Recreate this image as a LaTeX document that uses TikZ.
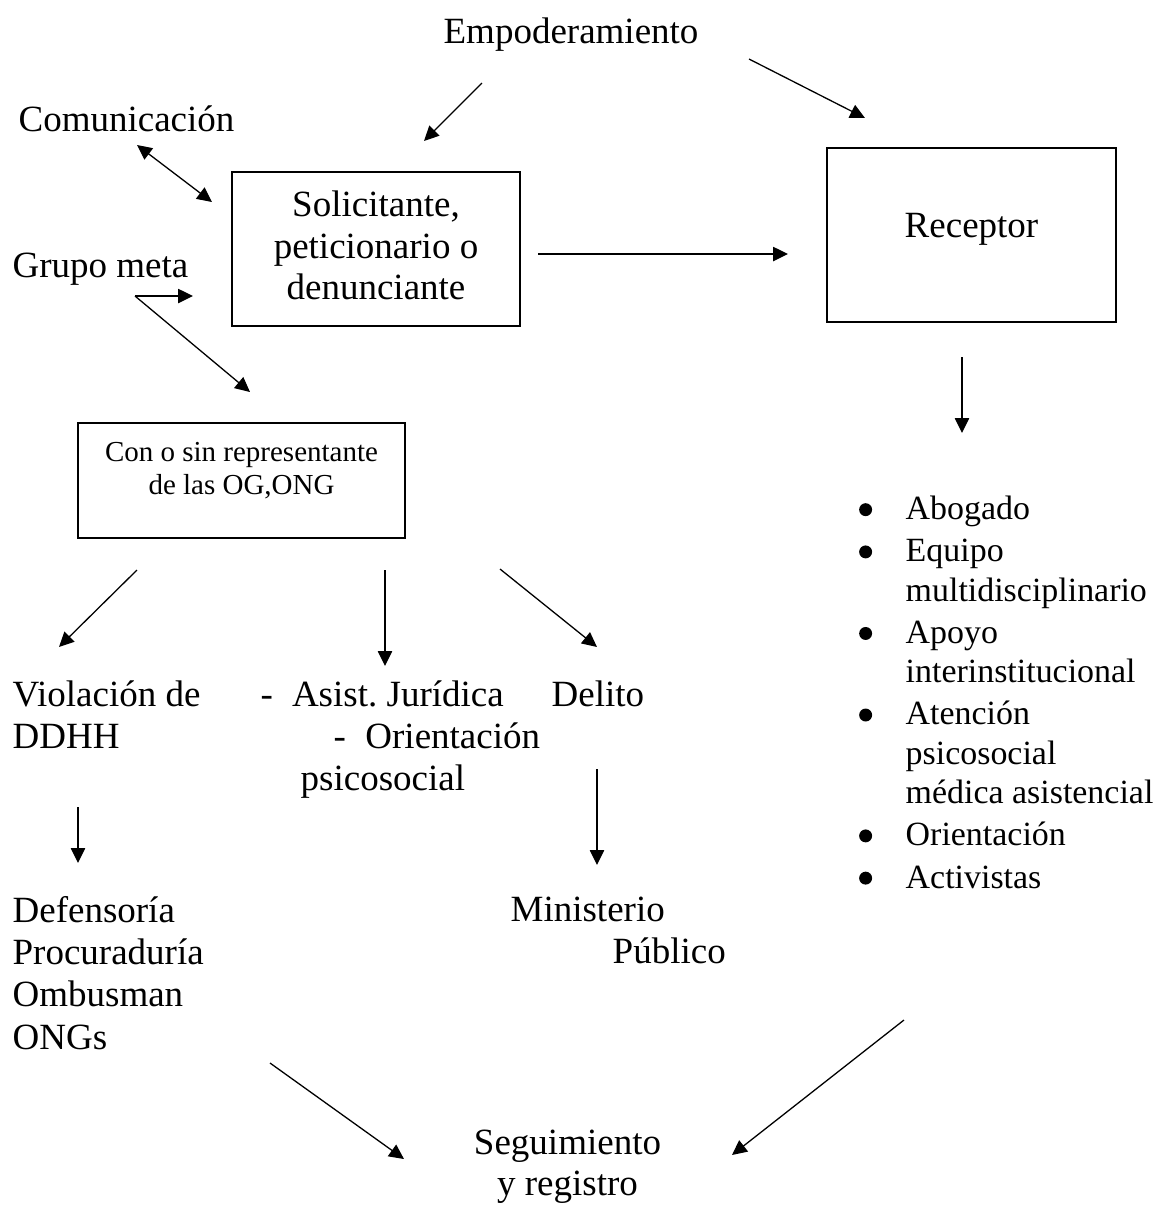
\documentclass[tikz,border=0pt]{standalone}
\usepackage{fontspec}
\setmainfont{Liberation Serif}
\usetikzlibrary{arrows.meta}
\def\u{0.3243pt}
\newcommand{\punto}{\makebox[15.6pt][l]{\hspace{0.5pt}\tikz[baseline=-3.2pt]\fill (0,0) circle (2.1pt);}}
\tikzset{
  txt/.style={inner sep=0pt, font=\fontsize{12}{13.4}\selectfont},
  chico/.style={inner sep=0pt, font=\fontsize{9.4}{10.4}\selectfont},
  caja/.style={draw, line width=0.55pt, inner sep=0pt},
  flecha/.style={-{Triangle[length=4.8pt,width=4.6pt]}, line width=0.42pt},
  doble/.style={{Triangle[length=4.8pt,width=4.6pt]}-{Triangle[length=4.8pt,width=4.6pt]}, line width=0.42pt},
}
\begin{document}
\begin{tikzpicture}[x=\u, y=-\u]
		%%%%% START %%%%%
		\useasboundingbox (0,0) rectangle (1163,1205);
		
		% textos sueltos
		\node[txt, anchor=base west] (emp) at (443,43) {Empoderamiento};
		\node[txt, anchor=base west] (com) at (18,131) {Comunicación};
		\node[txt, anchor=base west] (grupo) at (12,277) {Grupo meta};
		
		% cajas (el texto de varias lineas va anclado en su ultima linea)
		\node[caja, minimum width=288*\u, minimum height=154*\u] (solbox) at (376,249) {};
		\node[txt, anchor=base, align=center, font=\fontsize{12}{13.3}\selectfont] (sol) at (376,299) {Solicitante,\\peticionario o\\denunciante};
		\node[caja, minimum width=289*\u, minimum height=174*\u] (recbox) at (971.5,235) {};
		\node[txt, anchor=base] (rec) at (971.5,237) {Receptor};
		\node[caja, minimum width=327*\u, minimum height=115*\u] (repbox) at (241.5,480.5) {};
		\node[chico, anchor=base, align=center] (rep) at (241.5,494) {Con o sin representante\\de las OG,ONG};
		
		% lista del receptor
		\node[txt, anchor=base west, align=left, font=\fontsize{11}{12.75}\selectfont] (lista) at (857,888)
		  {\punto Abogado\\[0.95pt]
		   \punto Equipo\\
		   \hspace*{15.6pt}multidisciplinario\\[0.95pt]
		   \punto Apoyo\\
		   \hspace*{15.6pt}interinstitucional\\[0.95pt]
		   \punto Atención\\
		   \hspace*{15.6pt}psicosocial\\
		   \hspace*{15.6pt}médica asistencial\\[0.95pt]
		   \punto Orientación\\[0.95pt]
		   \punto Activistas};
		
		% ramas de abajo
		\node[txt, anchor=base west, align=left, font=\fontsize{12}{13.6}\selectfont] (viol) at (12,748) {Violación de\\DDHH};
		\node[txt, anchor=base west, align=left, font=\fontsize{12}{13.6}\selectfont] (asist) at (260,790)
		  {-\hspace{6.2pt}Asist.\ Jurídica\\
		   \hspace*{23.7pt}-\hspace{6.3pt}Orientación\\
		   \hspace*{13pt}psicosocial};
		\node[txt, anchor=base west] (delito) at (551,706) {Delito};
		\node[txt, anchor=base west, align=left, font=\fontsize{12}{13.7}\selectfont] (def) at (12,1049)
		  {Defensoría\\Procuraduría\\Ombusman\\ONGs};
		\node[txt, anchor=base west, align=left, font=\fontsize{12}{13.6}\selectfont] (min) at (510,963)
		  {Ministerio\\\hspace*{33.1pt}Público};
		\node[txt, anchor=base, align=center, font=\fontsize{12}{13.3}\selectfont] (seg) at (567.5,1195)
		  {Seguimiento\\y registro};
		
		% puntas de las flechas
		\coordinate (e1a) at (482,83);   \coordinate (e1b) at (424,141);
		\coordinate (e2a) at (749,59);   \coordinate (e2b) at (865,118);
		\coordinate (ca) at (137,145);   \coordinate (cb) at (212,202);
		\coordinate (g0) at (135,296);   \coordinate (g1) at (193,296);
		\coordinate (g2) at (250,392);
		\coordinate (sa) at (538,254);   \coordinate (sb) at (788,254);
		\coordinate (ra) at (962,357);   \coordinate (rb) at (962,433);
		\coordinate (b1a) at (137,570);  \coordinate (b1b) at (59,647);
		\coordinate (b2a) at (385,570);  \coordinate (b2b) at (385,666);
		\coordinate (b3a) at (500,569);  \coordinate (b3b) at (597,647);
		\coordinate (va) at (78,807);    \coordinate (vb) at (78,863);
		\coordinate (da) at (597,769);   \coordinate (db) at (597,865);
		\coordinate (fa) at (270,1063);  \coordinate (fb) at (404,1159);
		\coordinate (la) at (904,1020);  \coordinate (lb) at (732,1155);
		
		% flechas
		\draw[flecha] (e1a) -- (e1b);
		\draw[flecha] (e2a) -- (e2b);
		\draw[doble] (ca) -- (cb);
		\draw[flecha] (g0) -- (g1);
		\draw[flecha] (g0) -- (g2);
		\draw[flecha] (sa) -- (sb);
		\draw[flecha] (ra) -- (rb);
		\draw[flecha] (b1a) -- (b1b);
		\draw[flecha] (b2a) -- (b2b);
		\draw[flecha] (b3a) -- (b3b);
		\draw[flecha] (va) -- (vb);
		\draw[flecha] (da) -- (db);
		\draw[flecha] (fa) -- (fb);
		\draw[flecha] (la) -- (lb);
		
		%%%%% END %%%%%
\end{tikzpicture}
\end{document}
